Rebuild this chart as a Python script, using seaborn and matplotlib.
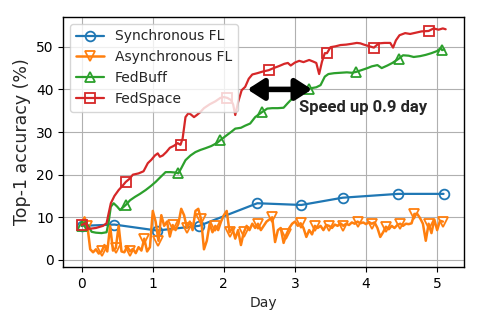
import numpy as np
import matplotlib
matplotlib.use("Agg")
import matplotlib.pyplot as plt
import seaborn as sns

# ---------------- data ----------------
sync_day = [0.0, 0.46, 1.06, 1.65, 2.47, 3.09, 3.67, 4.45, 5.09]
sync_acc = [8.0, 8.3, 6.9, 8.0, 13.3, 12.9, 14.6, 15.5, 15.5]

async_acc = [8.5, 10.0, 8.0, 2.5, 1.8, 2.5, 1.5, 2.0, 3.5, 2.0,
             8.0, 2.2, 2.8, 8.0, 2.0, 1.8, 3.2, 2.0, 2.6, 1.6,
             3.0, 2.2, 5.0, 2.0, 3.0, 11.5, 9.0, 4.5, 10.5, 8.0,
             9.0, 5.5, 8.2, 7.0, 8.5, 12.0, 10.5, 7.5, 9.0, 7.0,
             11.5, 12.0, 9.5, 2.5, 4.5, 8.5, 6.5, 8.0, 7.0, 9.0,
             10.5, 11.5, 6.5, 7.5, 5.0, 7.0, 3.5, 6.5, 8.0, 7.0,
             8.5, 7.5, 8.5, 7.0, 8.0, 9.0, 9.5, 10.0, 4.2, 7.0,
             7.5, 4.0, 6.0, 7.5, 8.5, 9.0, 8.0, 8.6, 7.5, 5.4,
             7.0, 6.0, 8.0, 7.5, 8.0, 7.0, 8.2, 8.0, 7.5, 8.3,
             8.0, 8.6, 8.0, 8.5, 8.2, 8.8, 8.5, 9.0, 8.6, 8.8,
             8.4, 8.9, 8.5, 8.8, 7.5, 5.4, 6.5, 7.8, 7.2, 8.0,
             7.5, 8.2, 8.5, 8.0, 8.5, 8.4, 8.6, 10.8, 10.8, 9.8,
             8.5, 4.5, 8.5, 6.3, 9.5, 7.0, 9.2, 9.0]
async_day = list(np.round(np.arange(len(async_acc)) * 0.04, 2))

buff_day = [0.0, 0.05, 0.1, 0.14, 0.2, 0.28, 0.35, 0.38, 0.41, 0.45, 0.5, 0.54,
            0.58, 0.62, 0.68, 0.75, 0.82, 0.9, 0.97, 1.04, 1.1, 1.18, 1.25,
            1.32, 1.36, 1.4, 1.46, 1.53, 1.6, 1.67, 1.74, 1.82, 1.9, 1.95,
            2.02, 2.1, 2.16, 2.24, 2.3, 2.37, 2.44, 2.53, 2.61, 2.68, 2.76,
            2.84, 2.9, 2.97, 3.03, 3.1, 3.2, 3.3, 3.36, 3.42, 3.47, 3.55,
            3.64, 3.73, 3.8, 3.86, 3.95, 4.02, 4.08, 4.16, 4.22, 4.3, 4.37,
            4.46, 4.52, 4.6, 4.67, 4.76, 4.84, 4.92, 5.0, 5.05, 5.07, 5.1]
buff_acc = [8.0, 8.9, 7.8, 6.6, 6.4, 6.3, 6.5, 9.0, 12.5, 13.3, 12.5, 11.7,
            12.3, 12.9, 14.0, 14.8, 15.5, 16.4, 17.3, 18.3, 19.3, 20.6, 20.6,
            20.5, 20.3, 21.5, 23.4, 24.5, 25.3, 25.8, 26.2, 26.7, 27.4, 28.1,
            29.0, 30.0, 30.8, 31.0, 31.5, 32.0, 33.5, 34.6, 35.5, 35.6, 35.6,
            35.7, 36.8, 38.0, 39.3, 39.8, 40.2, 40.5, 41.0, 43.0, 43.6, 43.8,
            43.9, 44.0, 43.9, 44.1, 44.6, 45.0, 45.4, 45.7, 45.0, 45.6, 46.2,
            47.2, 48.0, 47.9, 47.6, 47.8, 48.1, 48.5, 49.0, 49.7, 49.2, 49.4]
buff_mark_day = [0.0, 0.62, 1.36, 1.95, 2.53, 3.2, 3.86, 4.46, 5.07]

space_day = [0.0, 0.05, 0.1, 0.2, 0.3, 0.35, 0.38, 0.41, 0.46, 0.52, 0.58,
             0.62, 0.67, 0.72, 0.8, 0.87, 0.93, 0.98, 1.03, 1.07, 1.1, 1.14,
             1.19, 1.24, 1.3, 1.35, 1.39, 1.42, 1.44, 1.46, 1.5, 1.53, 1.58,
             1.62, 1.67, 1.72, 1.8, 1.88, 1.95, 2.0, 2.05, 2.1, 2.13, 2.16,
             2.2, 2.25, 2.3, 2.35, 2.4, 2.47, 2.55, 2.63, 2.7, 2.78, 2.85,
             2.9, 2.94, 3.0, 3.06, 3.12, 3.2, 3.26, 3.3, 3.34, 3.38, 3.42,
             3.45, 3.5, 3.57, 3.64, 3.72, 3.8, 3.87, 3.92, 3.97, 4.03, 4.11,
             4.18, 4.26, 4.34, 4.38, 4.42, 4.47, 4.55, 4.62, 4.7, 4.78, 4.88,
             4.95, 5.02, 5.08, 5.12]
space_acc = [8.2, 8.6, 7.3, 7.5, 8.0, 8.6, 11.0, 13.3, 15.0, 16.4, 17.5,
             18.3, 19.0, 20.0, 20.3, 20.8, 22.7, 23.5, 24.5, 25.0, 24.2, 24.5,
             25.3, 26.3, 26.8, 27.4, 27.0, 28.5, 31.0, 33.5, 34.4, 34.2, 33.5,
             34.0, 34.7, 35.6, 36.5, 37.2, 38.0, 38.2, 38.0, 37.5, 36.5, 34.0,
             37.0, 39.8, 40.6, 42.5, 43.5, 43.8, 44.2, 44.5, 45.0, 45.5, 46.0,
             46.2, 45.6, 46.3, 46.7, 46.4, 46.9, 46.5, 46.2, 43.6, 46.5, 48.5,
             48.5, 49.9, 50.1, 50.4, 50.5, 50.7, 50.9, 50.8, 50.5, 50.2, 49.8,
             50.8, 50.9, 50.9, 49.8, 51.5, 52.7, 53.2, 53.0, 53.3, 53.6, 53.7,
             54.3, 54.0, 54.3, 54.1]
space_mark_day = [0.0, 0.62, 1.39, 2.05, 2.63, 3.45, 4.11, 4.88]

labels = ["Synchronous FL", "Asynchronous FL", "FedBuff", "FedSpace"]
colors = ["#1f77b4", "#ff7f0e", "#2ca02c", "#d62728"]

speedup_text = "Speed up 0.9 day"
arrow_start, arrow_end, arrow_y = 2.33, 3.24, 40.0

# ---------------- plot ----------------
sns.set_style("ticks", {"axes.grid": True, "axes.edgecolor": "black",
                        "grid.color": "#b0b0b0", "xtick.color": "black",
                        "ytick.color": "black"})
plt.rcParams["font.family"] = ["DejaVu Sans"]

fig = plt.figure(figsize=(4.81, 3.19), dpi=100)
ax = fig.add_axes([0.132, 0.163, 0.833, 0.784])

sns.lineplot(x=sync_day, y=sync_acc, ax=ax, color=colors[0], label=labels[0],
             marker="o", markersize=7, mfc="none", mec=colors[0], mew=1.3,
             linewidth=1.6)
sns.lineplot(x=async_day, y=async_acc, ax=ax, color=colors[1], label=labels[1],
             marker="v", markersize=7.5, mfc="none", mec=colors[1], mew=1.3,
             linewidth=1.8, markevery=(2, 5))
sns.lineplot(x=buff_day, y=buff_acc, ax=ax, color=colors[2], label=labels[2],
             marker="^", markersize=7.5, mfc="none", mec=colors[2], mew=1.3,
             linewidth=1.6, markevery=[buff_day.index(d) for d in buff_mark_day])
sns.lineplot(x=space_day, y=space_acc, ax=ax, color=colors[3], label=labels[3],
             marker="s", markersize=7, mfc="none", mec=colors[3], mew=1.3,
             linewidth=1.6, markevery=[space_day.index(d) for d in space_mark_day])

ax.annotate("", xy=(arrow_end, arrow_y), xytext=(arrow_start, arrow_y),
            arrowprops=dict(arrowstyle="<|-|>,head_length=0.7,head_width=0.45",
                            color="black", lw=4, mutation_scale=14,
                            shrinkA=0, shrinkB=0))
ax.text(3.06, 35.7, speedup_text, fontsize=12, fontweight="bold",
        family=["Liberation Sans Narrow", "Roboto", "DejaVu Sans"],
        va="center", ha="left")

ax.set_xlabel("Day", fontsize=10)
ax.set_ylabel("Top-1 accuracy (%)", fontsize=12.5)
ax.tick_params(labelsize=10)
ax.set_xticks([0, 1, 2, 3, 4, 5])
ax.set_yticks([0, 10, 20, 30, 40, 50])
ax.set_xlim(-0.256, 5.38)
ax.set_ylim(-1.65, 57.0)
for s in ax.spines.values():
    s.set_visible(True)
    s.set_color("black")
    s.set_linewidth(1.0)
ax.grid(True, color="#b0b0b0", linewidth=0.8)

leg = ax.legend(loc="upper left", fontsize=10, framealpha=0.8)

fig.savefig("out.png", dpi=100)
